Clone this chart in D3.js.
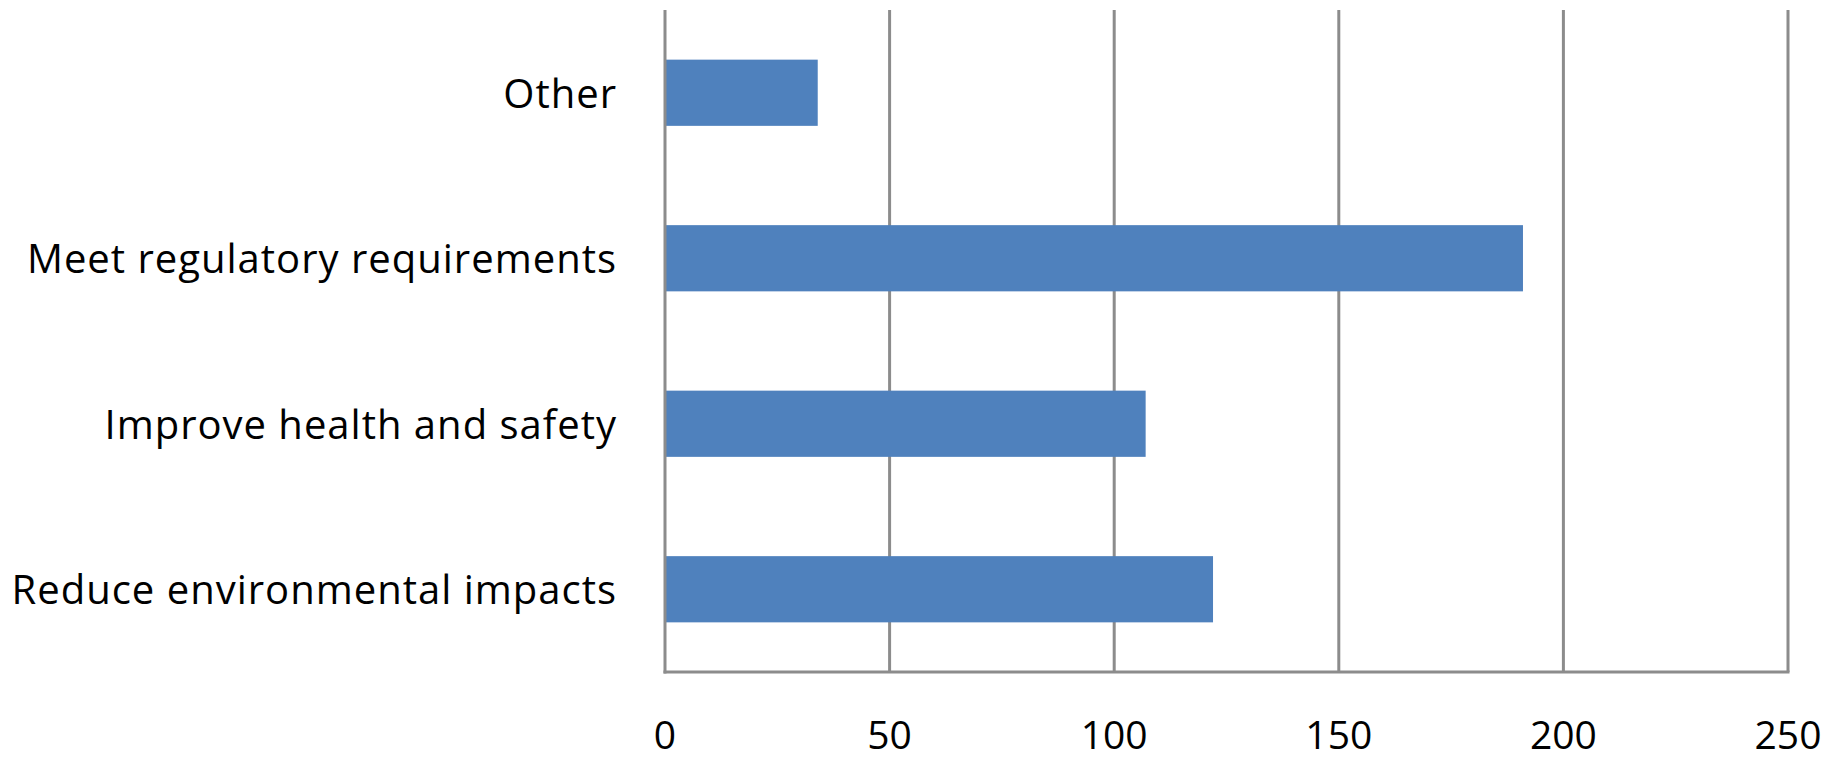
<!DOCTYPE html>
<html>
<head>
<meta charset="utf-8">
<script src="https://cdn.jsdelivr.net/npm/d3@7"></script>
<style>
  html, body { margin: 0; padding: 0; background: #ffffff; }
  svg { display: block; }
  text { font-family: "Open Sans", Lato, sans-serif; fill: #000; }
</style>
</head>
<body>
<svg id="chart" width="1841" height="760"></svg>
<script>
// Data (bottom-to-top order as in the source chart)
const categories = ["Reduce environmental impacts", "Improve health and safety", "Meet regulatory requirements", "Other"];
const values = [122, 107, 191, 34];
const xTicks = [0, 50, 100, 150, 200, 250];

const svg = d3.select("#chart");
const W = 1841, H = 760;
const margin = { left: 665, right: W - 1788, top: 10, bottom: H - 672 };
const x0 = margin.left, x1 = W - margin.right, y0 = margin.top, y1 = H - margin.bottom;

const x = d3.scaleLinear().domain([0, 250]).range([x0, x1]);
const y = d3.scaleBand()
  .domain(categories.slice().reverse())
  .range([y0, y1])
  .paddingInner(0.6)
  .paddingOuter(0.3);

const gridColor = "#8c8c8c";

// Vertical gridlines
svg.append("g").selectAll("line").data(xTicks.slice(1)).join("line")
  .attr("x1", d => x(d)).attr("x2", d => x(d))
  .attr("y1", y0).attr("y2", y1)
  .attr("stroke", gridColor).attr("stroke-width", 3);

// Bars
const data = categories.map((c, i) => ({ c, v: values[i] }));
svg.append("g").selectAll("rect").data(data).join("rect")
  .attr("x", x(0))
  .attr("y", d => y(d.c))
  .attr("width", d => x(d.v) - x(0))
  .attr("height", y.bandwidth())
  .attr("fill", "#4f81bd");

// Axis lines
svg.append("line")
  .attr("x1", x(0)).attr("x2", x(0)).attr("y1", y0).attr("y2", y1 + 1.5)
  .attr("stroke", gridColor).attr("stroke-width", 3);
svg.append("line")
  .attr("x1", x(0) - 1.5).attr("x2", x(250) + 1.5).attr("y1", y1).attr("y2", y1)
  .attr("stroke", gridColor).attr("stroke-width", 3);

// X tick labels
svg.append("g").selectAll("text").data(xTicks).join("text")
  .attr("x", d => x(d))
  .attr("y", 749)
  .attr("text-anchor", "middle")
  .attr("font-size", 39)
  .text(d => d);

// Category labels
svg.append("g").selectAll("text").data(categories).join("text")
  .attr("x", 617)
  .attr("y", d => y(d) + y.bandwidth() / 2 + 15)
  .attr("text-anchor", "end")
  .attr("font-size", 40)
  .attr("letter-spacing", 1)
  .text(d => d);
</script>
</body>
</html>
